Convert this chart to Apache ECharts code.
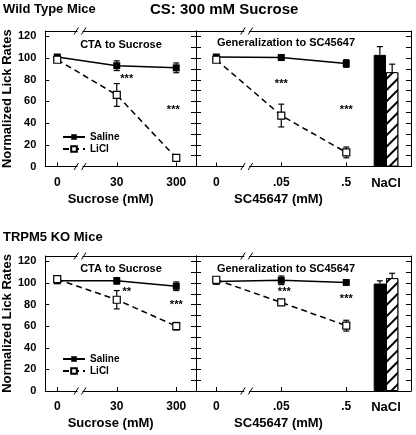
<!DOCTYPE html>
<html>
<head>
<meta charset="utf-8">
<script src="https://cdn.jsdelivr.net/npm/echarts@6/dist/echarts.min.js"></script>
<style>
html,body{margin:0;padding:0;background:#fff;}
#c{width:416px;height:435px;}
</style>
</head>
<body>
<div id="c"></div>
<script>
// ---------------- data ----------------
const sucroseCats = ['0', '30', '300'];
const scCats = ['0', '.05', '.5'];
const naclCats = ['NaCl'];
const yTickLabels = [0, 20, 40, 60, 80, 100, 120];

// Wild type
const wtSucSaline = [101, 93, 91];
const wtSucSalineErr = [1.5, 4.5, 4.5];
const wtSucLiCl = [98.5, 66, 8];
const wtSucLiClErr = [1.5, 10.5, 3];
const wtScSaline = [101, 100.5, 95];
const wtScSalineErr = [1, 2, 3.5];
const wtScLiCl = [98.5, 47, 13];
const wtScLiClErr = [1, 10.5, 5];
const wtNaClSaline = [103];
const wtNaClSalineErr = [7.6];
const wtNaClLiCl = [87];
const wtNaClLiClErr = [7.4];
const wtSucStars = [[1, 81, '***'], [2, 52, '***']];
const wtScStars = [[1, 76, '***'], [2, 52, '***']];

// TRPM5 KO
const koSucSaline = [102, 102, 97];
const koSucSalineErr = [1, 3, 4];
const koSucLiCl = [103.5, 84.5, 60];
const koSucLiClErr = [1, 8.5, 3.5];
const koScSaline = [101.5, 102.5, 100.5];
const koScSalineErr = [1, 4, 1];
const koScLiCl = [103, 82, 60.5];
const koScLiClErr = [1, 2.5, 5];
const koNaClSaline = [99.5];
const koNaClSalineErr = [2.5];
const koNaClLiCl = [104.5];
const koNaClLiClErr = [4.5];
const koSucStars = [[1, 92, '**'], [2, 79.5, '***']];
const koScStars = [[1, 92, '***'], [2, 85, '***']];

// ---------------- layout / style ----------------
const FONT = 'Liberation Sans, Arial, sans-serif';
const rows = [
  {top: 31, height: 135.5, name: 'wt', legendTop: 132},
  {top: 256, height: 135, name: 'ko', legendTop: 354}
];
const panelA = {left: 44, width: 152, min: -0.2017, pxPerIdx: 60};
const panelB = {left: 196, width: 165, min: -0.312, pxPerIdx: 65};
const panelC = {left: 361, width: 50};
const YMAX = 125;
const BAR_W = 12.3;

const chart = echarts.init(document.getElementById('c'), null, {renderer: 'canvas'});

const grid = [], xAxis = [], yAxis = [], series = [];

function lineAxisX(gi, p, cats, name, padRight) {
  const max = p.min + p.width / p.pxPerIdx;
  const idx = cats.map((_, i) => i);
  xAxis.push({
    gridIndex: gi, type: 'value', position: 'bottom', min: p.min, max: max,
    axisLine: {show: true, onZero: false, lineStyle: {color: '#000', width: 1}},
    axisTick: {show: true, inside: true, length: 4, customValues: idx, lineStyle: {color: '#000'}},
    axisLabel: {show: true, customValues: idx, margin: 10, formatter: v => cats[Math.round(v)],
      color: '#000', fontFamily: FONT, fontWeight: 'bold', fontSize: 12},
    splitLine: {show: false},
    name: name, nameLocation: 'middle', nameGap: 26,
    nameTextStyle: {color: '#000', fontFamily: FONT, fontWeight: 'bold', fontSize: 13, padding: [0, padRight, 0, 0]}
  });
  const bottomIdx = xAxis.length - 1;
  xAxis.push({
    gridIndex: gi, type: 'value', position: 'top', min: p.min, max: max,
    axisLine: {show: true, onZero: false, lineStyle: {color: '#000', width: 1}},
    axisTick: {show: false}, axisLabel: {show: false}, splitLine: {show: false}
  });
  return bottomIdx;
}

function yAx(gi, position, interval, showLabels, tickLen, name) {
  const o = {
    gridIndex: gi, type: 'value', position: position, min: 0, max: YMAX, interval: interval,
    axisLine: {show: true, onZero: false, lineStyle: {color: '#000', width: 1}},
    axisTick: {show: true, inside: true, length: tickLen, lineStyle: {color: '#000'}},
    axisLabel: {show: showLabels, margin: 9, color: '#000', fontFamily: FONT, fontWeight: 'bold', fontSize: 11,
      formatter: v => (yTickLabels.indexOf(v) >= 0 ? String(v) : '')},
    splitLine: {show: false}
  };
  if (name) {
    o.name = name; o.nameLocation = 'middle'; o.nameGap = 26; o.nameRotate = 90;
    o.nameTextStyle = {color: '#000', fontFamily: FONT, fontWeight: 'bold', fontSize: 13};
  }
  yAxis.push(o);
  return yAxis.length - 1;
}

function errorSeries(xi, yi, vals, errs, upOnly, dx) {
  return {
    type: 'custom', xAxisIndex: xi, yAxisIndex: yi, z: 2, silent: true,
    data: vals.map((v, i) => [i, v, errs[i]]),
    renderItem: function (params, api) {
      const x = api.value(0), v = api.value(1), e = api.value(2);
      const lo = api.coord([x, upOnly ? v : v - e]);
      const hi = api.coord([x, v + e]);
      const cx = lo[0] + (dx || 0);
      const cap = 3;
      const children = [
        {type: 'line', shape: {x1: cx, y1: lo[1], x2: cx, y2: hi[1]}, style: {stroke: '#000', lineWidth: 1.2}},
        {type: 'line', shape: {x1: cx - cap, y1: hi[1], x2: cx + cap, y2: hi[1]}, style: {stroke: '#000', lineWidth: 1.2}}
      ];
      if (!upOnly) children.push({type: 'line', shape: {x1: cx - cap, y1: lo[1], x2: cx + cap, y2: lo[1]}, style: {stroke: '#000', lineWidth: 1.2}});
      return {type: 'group', children: children};
    }
  };
}

function starSeries(xi, yi, stars, dxList) {
  return {
    type: 'custom', xAxisIndex: xi, yAxisIndex: yi, z: 4, silent: true,
    data: stars.map(s => [s[0], s[1]]),
    renderItem: function (params, api) {
      const p = api.coord([api.value(0), api.value(1)]);
      const s = stars[params.dataIndex];
      return {type: 'text', x: p[0] + (dxList[params.dataIndex] || 0), y: p[1],
        style: {text: s[2], font: 'bold 11px ' + FONT, fill: '#000', align: 'center', verticalAlign: 'middle'}};
    }
  };
}

function lineSeries(xi, yi, name, vals, filled) {
  return {
    type: 'line', name: name, xAxisIndex: xi, yAxisIndex: yi, z: 3,
    data: vals.map((v, i) => [i, v]),
    symbol: 'rect', symbolSize: 7,
    itemStyle: filled ? {color: '#000'} : {color: '#fff', borderColor: '#000', borderWidth: 1.2},
    lineStyle: {color: '#000', width: 1.5, type: filled ? 'solid' : [6, 4]},
    emphasis: {disabled: true}, animation: false
  };
}

const rowData = {
  wt: {sucS: wtSucSaline, sucSE: wtSucSalineErr, sucL: wtSucLiCl, sucLE: wtSucLiClErr,
       scS: wtScSaline, scSE: wtScSalineErr, scL: wtScLiCl, scLE: wtScLiClErr,
       nS: wtNaClSaline, nSE: wtNaClSalineErr, nL: wtNaClLiCl, nLE: wtNaClLiClErr,
       sucStars: wtSucStars, scStars: wtScStars, sucDx: [10, -3], scDx: [0, 0]},
  ko: {sucS: koSucSaline, sucSE: koSucSalineErr, sucL: koSucLiCl, sucLE: koSucLiClErr,
       scS: koScSaline, scSE: koScSalineErr, scL: koScLiCl, scLE: koScLiClErr,
       nS: koNaClSaline, nSE: koNaClSalineErr, nL: koNaClLiCl, nLE: koNaClLiClErr,
       sucStars: koSucStars, scStars: koScStars, sucDx: [10, 0], scDx: [3, 0]}
};

rows.forEach((r) => {
  const d = rowData[r.name];
  // Panel A
  grid.push({left: panelA.left, top: r.top, width: panelA.width, height: r.height});
  let gi = grid.length - 1;
  let xi = lineAxisX(gi, panelA, sucroseCats, 'Sucrose (mM)', 20);
  let yi = yAx(gi, 'left', 20, true, 4, 'Normalized Lick Rates');
  yAx(gi, 'right', 10, false, 5);
  series.push(errorSeries(xi, yi, d.sucS, d.sucSE, false));
  series.push(errorSeries(xi, yi, d.sucL, d.sucLE, false));
  series.push(lineSeries(xi, yi, 'Saline', d.sucS, true));
  series.push(lineSeries(xi, yi, 'LiCl', d.sucL, false));
  series.push(starSeries(xi, yi, d.sucStars, d.sucDx));

  // Panel B
  grid.push({left: panelB.left, top: r.top, width: panelB.width, height: r.height});
  gi = grid.length - 1;
  xi = lineAxisX(gi, panelB, scCats, 'SC45647 (mM)', 0);
  yi = yAx(gi, 'left', 10, false, 5);
  series.push(errorSeries(xi, yi, d.scS, d.scSE, false));
  series.push(errorSeries(xi, yi, d.scL, d.scLE, false));
  series.push(lineSeries(xi, yi, 'Saline', d.scS, true));
  series.push(lineSeries(xi, yi, 'LiCl', d.scL, false));
  series.push(starSeries(xi, yi, d.scStars, d.scDx));

  // Panel C (NaCl bars)
  grid.push({left: panelC.left, top: r.top, width: panelC.width, height: r.height});
  gi = grid.length - 1;
  xAxis.push({gridIndex: gi, type: 'category', data: naclCats, position: 'bottom',
    axisLine: {show: true, lineStyle: {color: '#000', width: 1}}, axisTick: {show: false},
    axisLabel: {margin: 10, color: '#000', fontFamily: FONT, fontWeight: 'bold', fontSize: 13}, splitLine: {show: false}});
  xi = xAxis.length - 1;
  xAxis.push({gridIndex: gi, type: 'category', data: naclCats, position: 'top',
    axisLine: {show: true, lineStyle: {color: '#000', width: 1}}, axisTick: {show: false},
    axisLabel: {show: false}, splitLine: {show: false}});
  yi = yAx(gi, 'right', 10, false, 5);
  series.push({type: 'bar', name: 'NaCl Saline', xAxisIndex: xi, yAxisIndex: yi, data: d.nS,
    barWidth: BAR_W, barGap: '0%', itemStyle: {color: '#000', borderColor: '#000', borderWidth: 1}, z: 2});
  series.push({type: 'bar', name: 'NaCl LiCl', xAxisIndex: xi, yAxisIndex: yi, data: d.nL,
    barWidth: BAR_W, barGap: '0%', z: 2,
    itemStyle: {color: '#fff', borderColor: '#000', borderWidth: 1,
      decal: {symbol: 'rect', symbolSize: 1, dashArrayX: [1, 0], dashArrayY: [1.2, 5.5], rotation: -Math.PI / 4,
        color: '#000', backgroundColor: '#fff'}}});
  series.push(errorSeries(xi, yi, d.nS, d.nSE, true, -BAR_W / 2));
  series.push(errorSeries(xi, yi, d.nL, d.nLE, true, BAR_W / 2));
});

const titleStyle = (size) => ({color: '#000', fontFamily: FONT, fontWeight: 'bold', fontSize: size});
const legendOpt = (top) => ({data: ['Saline', 'LiCl'], orient: 'vertical', left: 62, top: top, padding: 0,
  itemGap: 2, itemWidth: 22, itemHeight: 7, selectedMode: false,
  textStyle: {color: '#000', fontFamily: FONT, fontWeight: 'bold', fontSize: 10}});

const option = {
  animation: false,
  backgroundColor: '#fff',
  title: [
    {text: 'Wild Type Mice', left: 3, top: 3, padding: 0, textStyle: titleStyle(13)},
    {text: 'CS: 300 mM Sucrose', left: 150, top: 2, padding: 0, textStyle: titleStyle(15)},
    {text: 'TRPM5 KO Mice', left: 3, top: 231, padding: 0, textStyle: titleStyle(13)},
    {text: 'CTA to Sucrose', left: 121, top: 39, textAlign: 'center', padding: 0, textStyle: titleStyle(11)},
    {text: 'Generalization to SC45647', left: 286, top: 37, textAlign: 'center', padding: 0, textStyle: titleStyle(11)},
    {text: 'CTA to Sucrose', left: 121, top: 263, textAlign: 'center', padding: 0, textStyle: titleStyle(11)},
    {text: 'Generalization to SC45647', left: 286, top: 263, textAlign: 'center', padding: 0, textStyle: titleStyle(11)}
  ],
  legend: rows.map(r => legendOpt(r.legendTop)),
  grid: grid, xAxis: xAxis, yAxis: yAxis, series: series
};
chart.setOption(option);

// axis-break marks ("//") on the top and bottom axes
const breakXs = [80, 246.7];
const els = [];
rows.forEach(r => {
  [r.top, r.top + r.height].forEach(y => {
    breakXs.forEach(x => {
      els.push({type: 'rect', left: x - 2.5, top: y - 2, shape: {x: 0, y: 0, width: 5, height: 4},
        style: {fill: '#fff'}, z: 100, silent: true});
      els.push({type: 'polyline', x: 0, y: 0, shape: {points: [[x - 6, y + 3.5], [x - 1.5, y - 3.5]]},
        style: {stroke: '#000', lineWidth: 1, fill: null}, z: 101, silent: true});
      els.push({type: 'polyline', x: 0, y: 0, shape: {points: [[x + 1.5, y + 3.5], [x + 6, y - 3.5]]},
        style: {stroke: '#000', lineWidth: 1, fill: null}, z: 101, silent: true});
    });
  });
});
chart.setOption({graphic: {elements: els}});
</script>
</body>
</html>
